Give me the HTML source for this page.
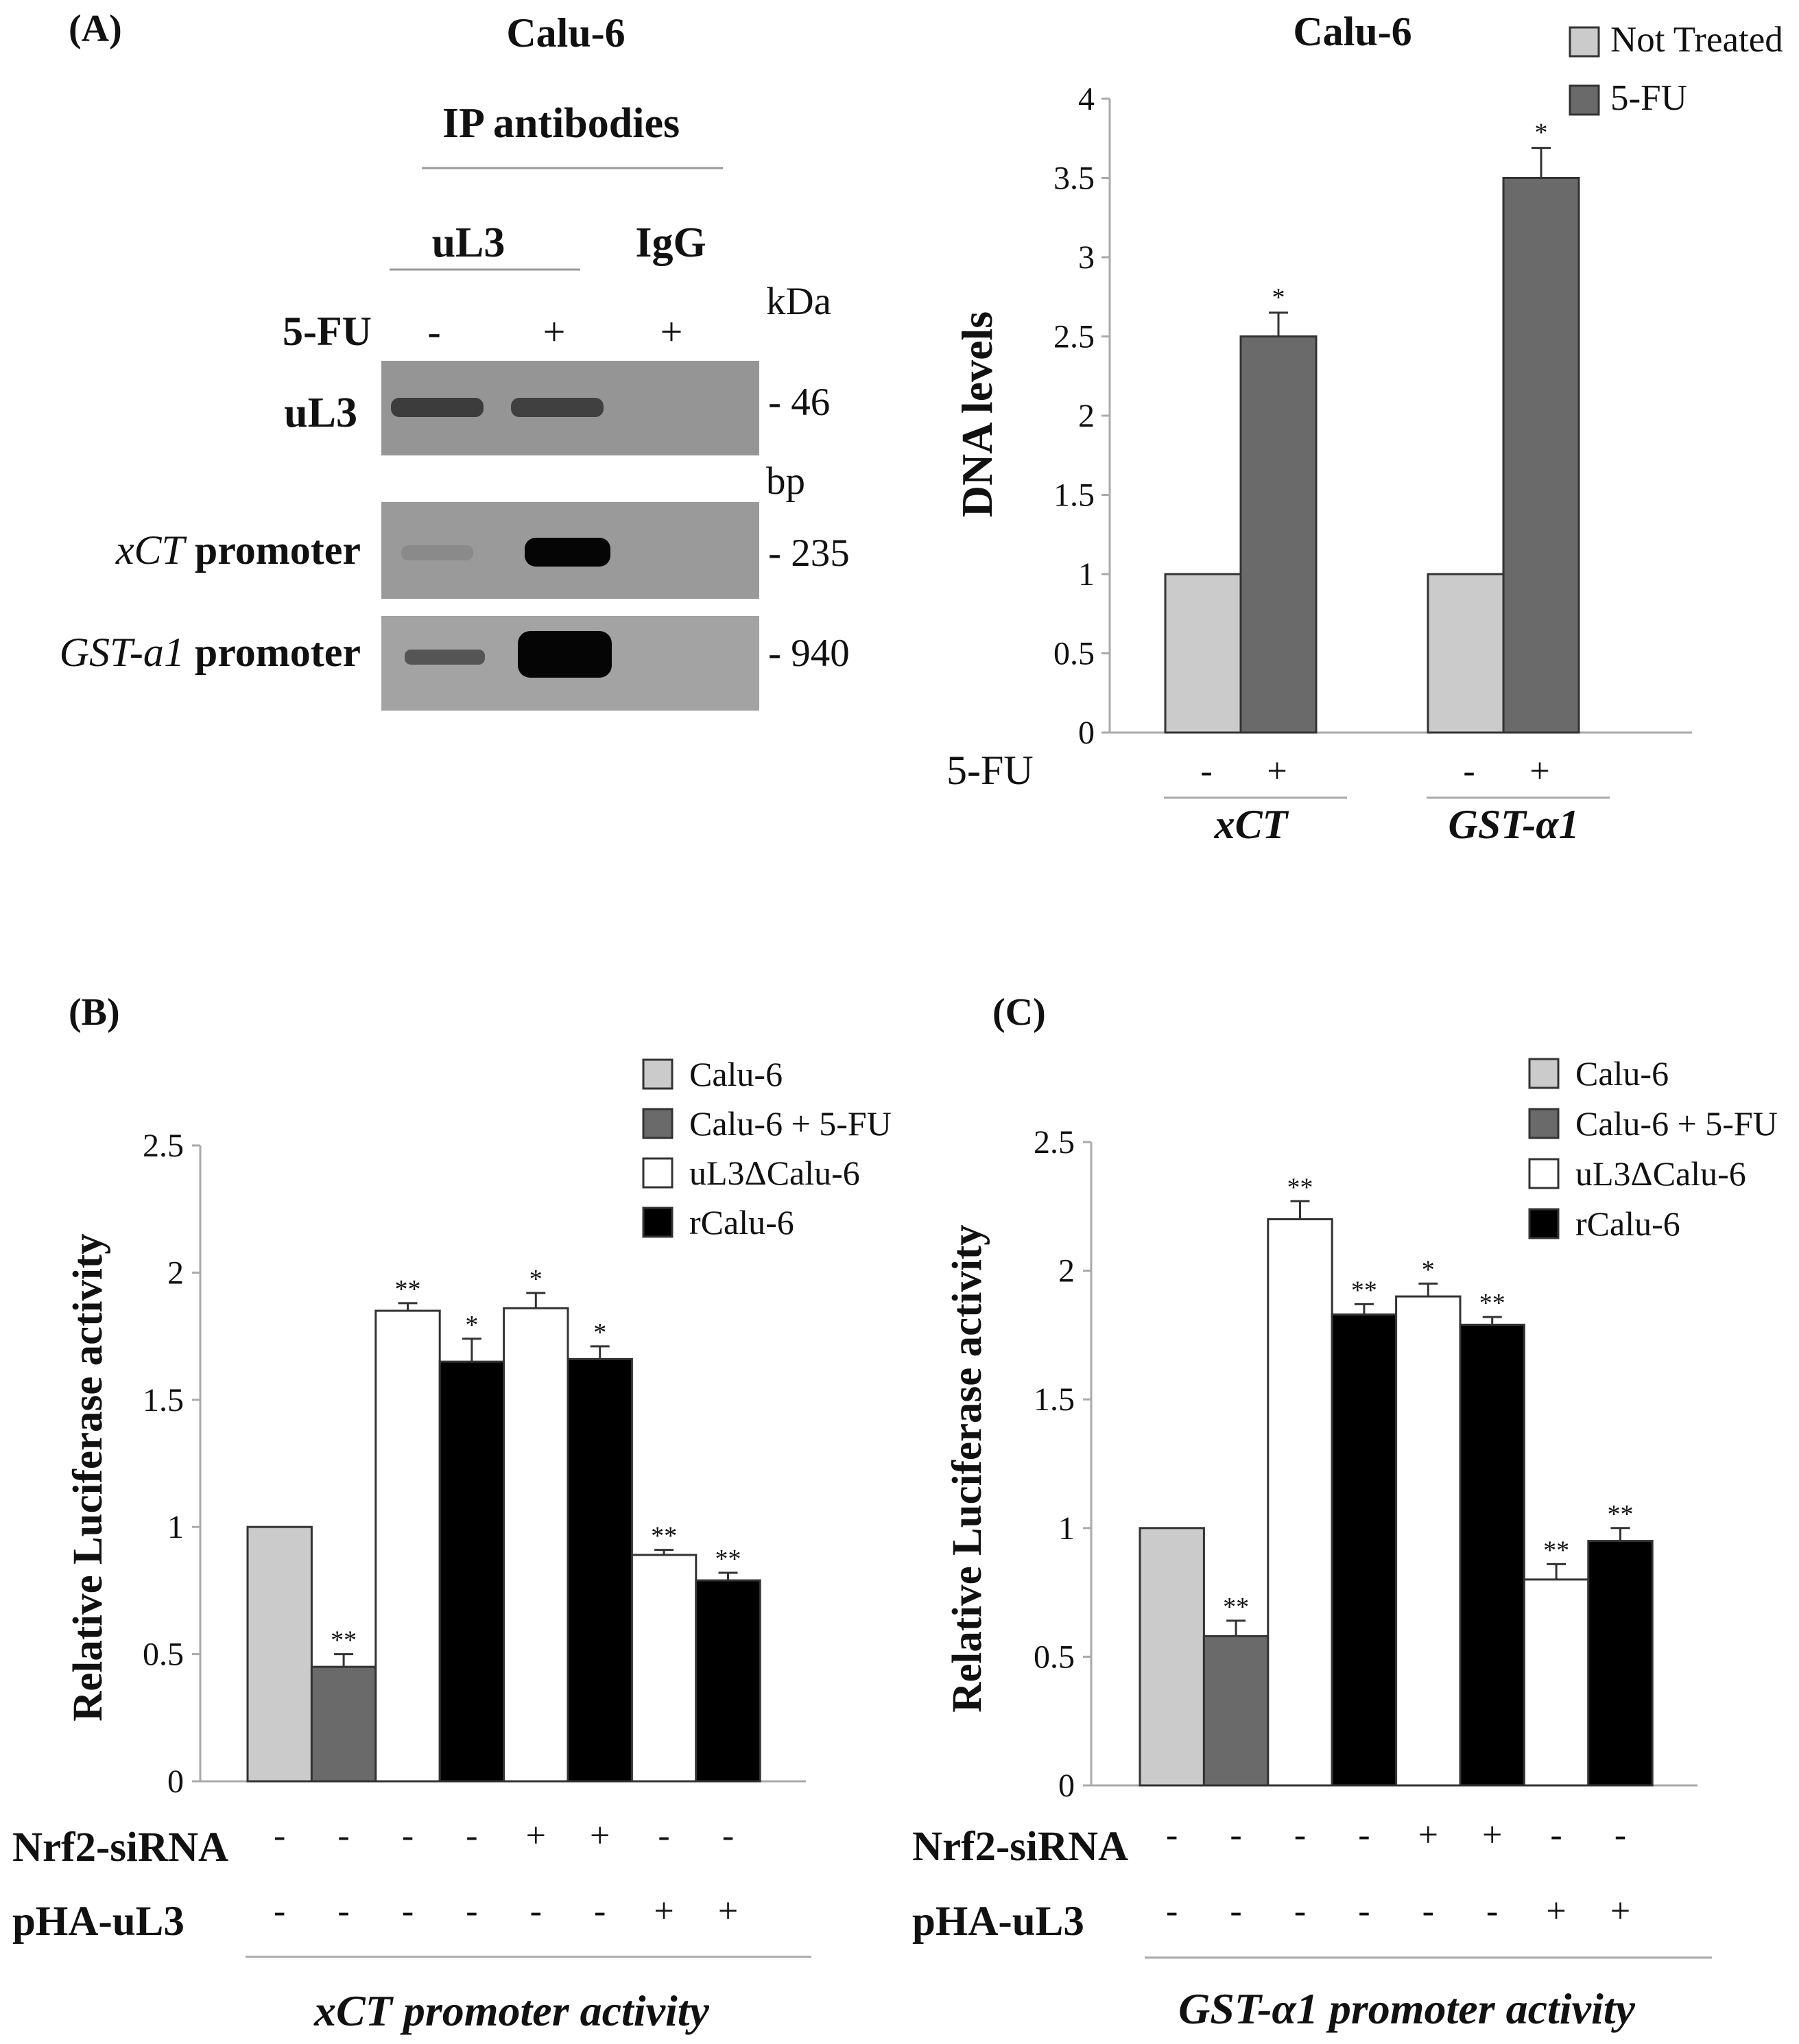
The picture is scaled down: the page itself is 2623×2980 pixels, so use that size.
<!DOCTYPE html>
<html><head><meta charset="utf-8"><style>
html,body{margin:0;padding:0;background:#fff}
svg{display:block}
text{font-family:"Liberation Serif",serif;fill:#111}
.b{font-weight:bold}
</style></head><body>
<svg id="fig" width="2623" height="2980" viewBox="0 0 2623 2980" xmlns="http://www.w3.org/2000/svg">
<g>
<text x="100" y="60" font-size="56" class="b">(A)</text>
<text x="825" y="68" font-size="60" class="b" text-anchor="middle">Calu-6</text>
<text x="818" y="200" font-size="62" class="b" text-anchor="middle">IP antibodies</text>
<line x1="615" y1="245" x2="1054" y2="245" stroke="#999" stroke-width="3"/>
<text x="683" y="374" font-size="62" class="b" text-anchor="middle">uL3</text>
<text x="978" y="374" font-size="62" class="b" text-anchor="middle">IgG</text>
<line x1="568" y1="393" x2="846" y2="393" stroke="#999" stroke-width="3"/>
<text x="1117" y="458" font-size="57">kDa</text>
<text x="542" y="503" font-size="60" class="b" text-anchor="end">5-FU</text>
<text x="633" y="503" font-size="58" text-anchor="middle">-</text>
<text x="808" y="503" font-size="58" text-anchor="middle">+</text>
<text x="979" y="503" font-size="58" text-anchor="middle">+</text>
<rect x="556" y="526" width="551" height="138" fill="#959595"/>
<rect x="570" y="580" width="135" height="28" rx="12" fill="#3c3c3c"/>
<rect x="745" y="580" width="135" height="28" rx="12" fill="#404040"/>
<text x="521" y="622" font-size="62" class="b" text-anchor="end">uL3</text>
<text x="1120" y="605" font-size="57">- 46</text>
<text x="1117" y="720" font-size="57">bp</text>
<rect x="556" y="732" width="551" height="141" fill="#9a9a9a"/>
<rect x="585" y="795" width="105" height="22" rx="10" fill="#8a8a8a"/>
<rect x="765" y="784" width="125" height="42" rx="16" fill="#050505"/>
<text x="526" y="822" font-size="60" text-anchor="end"><tspan font-style="italic">xCT</tspan><tspan class="b"> promoter</tspan></text>
<text x="1120" y="825" font-size="57">- 235</text>
<rect x="556" y="898" width="551" height="138" fill="#a3a3a3"/>
<rect x="590" y="947" width="117" height="22" rx="9" fill="#555"/>
<rect x="755" y="920" width="137" height="68" rx="18" fill="#050505"/>
<text x="526" y="971" font-size="60" text-anchor="end"><tspan font-style="italic">GST-a1</tspan><tspan class="b"> promoter</tspan></text>
<text x="1120" y="971" font-size="57">- 940</text>
</g>
<g id="chartA"></g>
<g id="chartB"></g>
<g id="chartC"></g>
</svg>
<script>
// ---- Chart A data ----
const aGroups = ["xCT", "GST-α1"];
const aNotTreated = [1, 1];
const aFU = [2.5, 3.5];
const aFUerr = [0.15, 0.19];
const aTicks = [0, 0.5, 1, 1.5, 2, 2.5, 3, 3.5, 4];

// ---- Chart B data ----
const bValues = [1, 0.45, 1.85, 1.65, 1.86, 1.66, 0.89, 0.79];
const bErr = [0, 0.05, 0.03, 0.09, 0.06, 0.05, 0.02, 0.03];
const bStars = ["", "**", "**", "*", "*", "*", "**", "**"];
// ---- Chart C data ----
const cValues = [1, 0.58, 2.2, 1.83, 1.9, 1.79, 0.8, 0.95];
const cErr = [0, 0.06, 0.07, 0.04, 0.05, 0.03, 0.06, 0.05];
const cStars = ["", "**", "**", "**", "*", "**", "**", "**"];
const lucKinds = ["calu", "fu", "ul3d", "r", "ul3d", "r", "ul3d", "r"];
const nrf2Signs = ["-", "-", "-", "-", "+", "+", "-", "-"];
const phaSigns = ["-", "-", "-", "-", "-", "-", "+", "+"];
const lucTicks = [0, 0.5, 1, 1.5, 2, 2.5];
const lucLegend = ["Calu-6", "Calu-6 + 5-FU", "uL3ΔCalu-6", "rCalu-6"];

const NS = "http://www.w3.org/2000/svg";
const fills = {calu: "#cbcbcb", fu: "#6a6a6a", ul3d: "#ffffff", r: "#000000"};
const lucFillList = ["#cbcbcb", "#6a6a6a", "#ffffff", "#000000"];
function mk(parent, tag, attrs, txt) {
  const e = document.createElementNS(NS, tag);
  for (const k in attrs) e.setAttribute(k, attrs[k]);
  if (txt !== undefined) e.textContent = txt;
  parent.appendChild(e);
  return e;
}

// ===== Chart A =====
(function () {
  const g = document.getElementById("chartA");
  const x0 = 1618, xEnd = 2467, y0 = 1068, unit = 231, bw = 110;
  const y = v => y0 - v * unit;
  const gx = i => x0 + 81 + i * 383;
  let t = mk(g, "text", {x: 1972, y: 66, "font-size": 60, class: "b", "text-anchor": "middle"}, "Calu-6");
  
  
  let ax = mk(g, "line", {x1: x0, y1: y(4), x2: x0, y2: y0, stroke: "#aaa", "stroke-width": 3});
  
  
  aTicks.forEach(v => {
    const tk = mk(g, "line", {x1: x0 - 12, y1: y(v), x2: x0, y2: y(v), stroke: "#aaa", "stroke-width": 3});
    
    
    const tl = mk(g, "text", {x: x0 - 22, y: y(v) + 16, "font-size": 48, "text-anchor": "end", fill: "#222"}, String(v));
    
    
  });
  let xa = mk(g, "line", {x1: x0 - 12, y1: y0, x2: xEnd, y2: y0, stroke: "#aaa", "stroke-width": 3});
  
  
  let yl = mk(g, "text", {x: 0, y: 0, "font-size": 64, class: "b", "text-anchor": "middle", transform: "translate(1446 604) rotate(-90)"}, "DNA levels");
  
  
  aGroups.forEach((name, i) => {
    const b1 = mk(g, "rect", {x: gx(i), y: y(aNotTreated[i]), width: bw, height: y0 - y(aNotTreated[i]), fill: "#cbcbcb", stroke: "#333", "stroke-width": 3});
    
    
    const b2 = mk(g, "rect", {x: gx(i) + bw, y: y(aFU[i]), width: bw, height: y0 - y(aFU[i]), fill: "#6a6a6a", stroke: "#333", "stroke-width": 3});
    
    
    const cx = gx(i) + bw * 1.5, top = y(aFU[i] + aFUerr[i]);
    const eb = mk(g, "path", {d: `M${cx} ${y(aFU[i])}V${top}M${cx - 14} ${top}H${cx + 14}`, stroke: "#333", "stroke-width": 3, fill: "none"});
    
    
    const st = mk(g, "text", {x: cx, y: top - 10, "font-size": 38, "text-anchor": "middle"}, "*");
    
    
    const s1 = mk(g, "text", {x: gx(i) + bw * 0.5 + 5, y: 1141, "font-size": 52, "text-anchor": "middle"}, "-");
    
    
    const s2 = mk(g, "text", {x: gx(i) + bw * 1.5 - 2, y: 1141, "font-size": 52, "text-anchor": "middle"}, "+");
    
    
    const ul = mk(g, "line", {x1: gx(i) - 2, y1: 1163, x2: gx(i) + 265, y2: 1163, stroke: "#aaa", "stroke-width": 3});
    
    
    const gl = mk(g, "text", {x: gx(i) + 125, y: 1222, "font-size": 60, class: "b", "font-style": "italic", "text-anchor": "middle"}, name);
    
    
  });
  const fl = mk(g, "text", {x: 1380, y: 1143, "font-size": 60}, "5-FU");
  
  
  [["Not Treated", "#cbcbcb", 40], ["5-FU", "#6a6a6a", 125]].forEach(([lab, f, yy]) => {
    const r = mk(g, "rect", {x: 2289, y: yy, width: 42, height: 42, fill: f, stroke: "#333", "stroke-width": 3});
    
    
    const tx = mk(g, "text", {x: 2348, y: yy + 35, "font-size": 53, fill: "#222"}, lab);
    
    
  });
})();

// ===== Luciferase charts =====
function lucChart(id, cfg, values, errs, stars) {
  const g = document.getElementById(id);
  const y = v => cfg.y0 - v * cfg.unit;
  const bx = i => cfg.bx0 + i * cfg.bw;
  const pl = mk(g, "text", {x: cfg.panelX, y: 1494, "font-size": 56, class: "b"}, cfg.panel);
  
  
  const ax = mk(g, "line", {x1: cfg.x0, y1: y(2.5), x2: cfg.x0, y2: cfg.y0, stroke: "#aaa", "stroke-width": 3});
  
  
  lucTicks.forEach(v => {
    const tk = mk(g, "line", {x1: cfg.x0 - 12, y1: y(v), x2: cfg.x0, y2: y(v), stroke: "#aaa", "stroke-width": 3});
    
    
    const tl = mk(g, "text", {x: cfg.x0 - 24, y: y(v) + 16, "font-size": 48, "text-anchor": "end", fill: "#222"}, String(v));
    
    
  });
  const xa = mk(g, "line", {x1: cfg.x0 - 12, y1: cfg.y0, x2: cfg.xEnd, y2: cfg.y0, stroke: "#aaa", "stroke-width": 3});
  
  
  const yl = mk(g, "text", {x: 0, y: 0, "font-size": 61, class: "b", "text-anchor": "middle", transform: `translate(${cfg.ylX} ${cfg.ylY}) rotate(-90)`}, "Relative Luciferase activity");
  
  
  values.forEach((v, i) => {
    const r = mk(g, "rect", {x: bx(i), y: y(v), width: cfg.bw, height: cfg.y0 - y(v), fill: fills[lucKinds[i]], stroke: "#333", "stroke-width": 3});
    
    
    const cx = bx(i) + cfg.bw / 2;
    if (errs[i] > 0) {
      const top = y(v + errs[i]);
      const eb = mk(g, "path", {d: `M${cx} ${y(v)}V${top}M${cx - 14} ${top}H${cx + 14}`, stroke: "#333", "stroke-width": 3, fill: "none"});
      
      
      const st = mk(g, "text", {x: cx, y: top - 8, "font-size": 38, "text-anchor": "middle", fill: "#333"}, stars[i]);
      
      
    }
    const s1 = mk(g, "text", {x: cx, y: cfg.row1 + 16, "font-size": 52, "text-anchor": "middle"}, nrf2Signs[i]);
    
    
    const s2 = mk(g, "text", {x: cx, y: cfg.row2 + 16, "font-size": 52, "text-anchor": "middle"}, phaSigns[i]);
    
    
  });
  const r1 = mk(g, "text", {x: cfg.rowX, y: cfg.row1 + 36, "font-size": 61, class: "b"}, "Nrf2-siRNA");
  
  
  const r2 = mk(g, "text", {x: cfg.rowX, y: cfg.row2 + 34, "font-size": 61, class: "b"}, "pHA-uL3");
  
  
  const ul = mk(g, "line", {x1: cfg.lineX1, y1: cfg.lineY, x2: cfg.lineX2, y2: cfg.lineY, stroke: "#aaa", "stroke-width": 3});
  
  
  const tt = mk(g, "text", {x: cfg.titleX, y: cfg.titleY, "font-size": 64, class: "b", "font-style": "italic", "text-anchor": "middle"}, cfg.title);
  
  
  lucLegend.forEach((lab, i) => {
    const yy = cfg.legY + i * cfg.legStep;
    const sw = mk(g, "rect", {x: cfg.legX, y: yy - 21, width: 42, height: 42, fill: lucFillList[i], stroke: "#333", "stroke-width": 3});
    
    
    const tx = mk(g, "text", {x: cfg.legX + 67, y: yy + 17, "font-size": 50, fill: "#222"}, lab);
    
    
  });
}
lucChart("chartB", {panel: "(B)", panelX: 100, x0: 292, xEnd: 1175, y0: 2597, unit: 370.8, bx0: 361, bw: 93.4,
  ylX: 148, ylY: 2154, row1: 2677, row2: 2787, rowX: 18, lineX1: 358, lineX2: 1183, lineY: 2853,
  title: "xCT promoter activity", titleX: 746, titleY: 2953, legX: 938, legY: 1566, legStep: 72}, bValues, bErr, bStars);
lucChart("chartC", {panel: "(C)", panelX: 1447, x0: 1591, xEnd: 2475, y0: 2603, unit: 375.2, bx0: 1662, bw: 93.4,
  ylX: 1430, ylY: 2141, row1: 2676, row2: 2787, rowX: 1330, lineX1: 1669, lineX2: 2496, lineY: 2854,
  title: "GST-α1 promoter activity", titleX: 2051, titleY: 2950, legX: 2230, legY: 1565, legStep: 73}, cValues, cErr, cStars);
</script>
</body></html>
